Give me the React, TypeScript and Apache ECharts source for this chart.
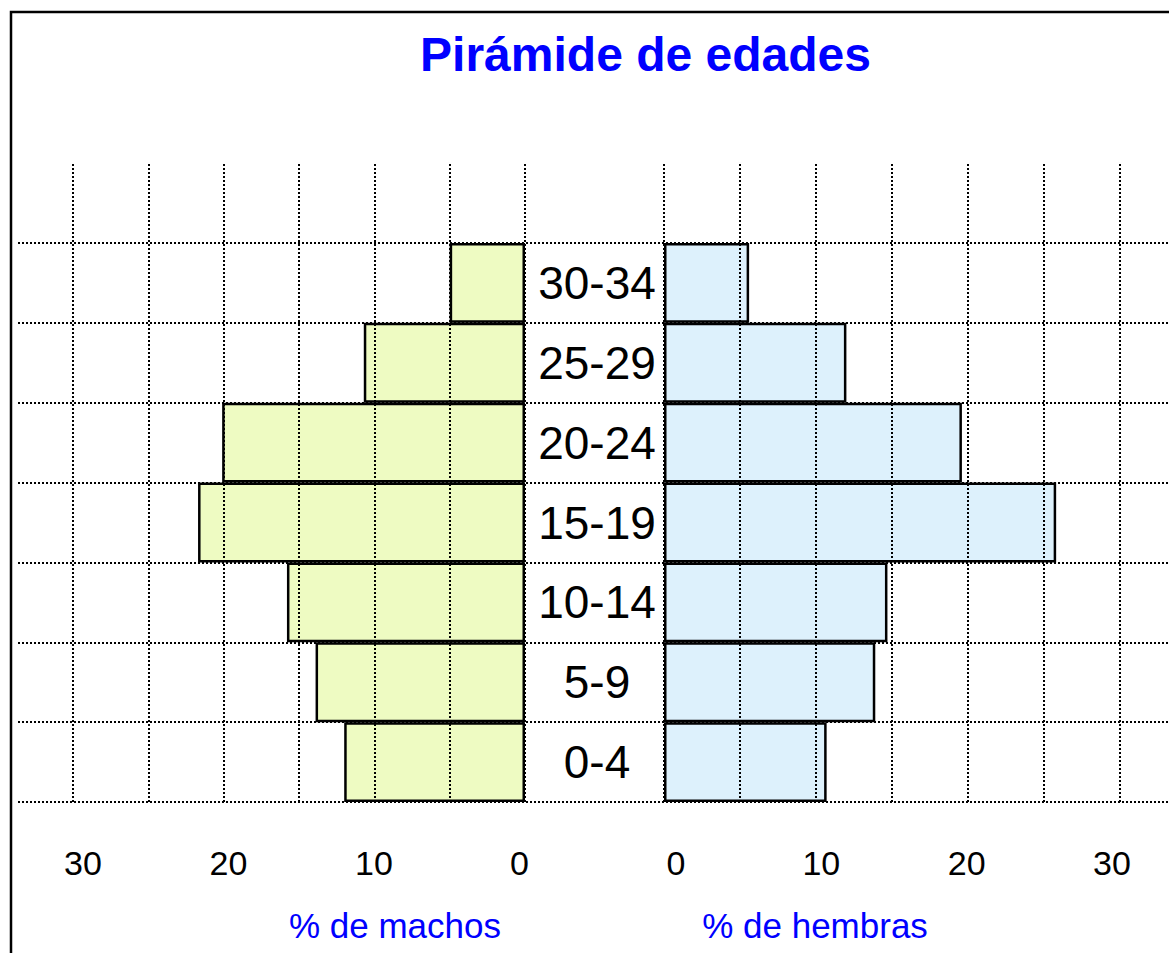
import React, { useEffect, useRef } from "react";
import * as echarts from "echarts";

const ageGroups = ["0-4", "5-9", "10-14", "15-19", "20-24", "25-29", "30-34"];
const malePercent = [12.0, 13.9, 15.8, 21.7, 20.1, 10.7, 5.0];
const femalePercent = [10.7, 13.9, 14.7, 25.8, 19.6, 12.0, 5.6];
const axisMax = 30;
const gridStep = 5;
const labelStep = 10;
const titleText = "Pirámide de edades";
const maleAxisTitle = "% de machos";
const femaleAxisTitle = "% de hembras";

const FONT = '"Liberation Sans", Arial, sans-serif';
const dotted = { color: "#000", width: 2, type: [2, 2] as number[] };

export default function App() {
  const ref = useRef<HTMLDivElement>(null);
  useEffect(() => {
    if (!ref.current) return;
    const chart = echarts.init(ref.current, undefined, { renderer: "svg" });
    const hiddenValue = (gridIndex: number) => ({
      gridIndex,
      type: "value",
      min: 0,
      max: 1,
      show: false,
    });
    const tickAxis = (gridIndex: number, inverse: boolean) => ({
      gridIndex,
      type: "value",
      inverse,
      min: 0,
      max: axisMax,
      interval: labelStep,
      axisLine: { show: false },
      axisTick: { show: false },
      splitLine: { show: false },
      axisLabel: {
        margin: 6,
        fontSize: 34,
        lineHeight: 34,
        color: "#000",
        fontFamily: FONT,
      },
    });
    const vLineAxis = (gridIndex: number, inverse: boolean) => ({
      gridIndex,
      type: "value",
      inverse,
      min: 0,
      max: axisMax,
      interval: gridStep,
      z: 10,
      axisLine: { show: false },
      axisTick: { show: false },
      axisLabel: { show: false },
      splitLine: { show: true, lineStyle: dotted },
    });
    chart.setOption({
      animation: false,
      backgroundColor: "#fff",
      grid: [
        { left: 73, top: 243, width: 452, height: 559 },
        { left: 664, top: 243, width: 456, height: 559 },
        { left: 73, top: 164, width: 452, height: 638 },
        { left: 664, top: 164, width: 456, height: 638 },
        { left: 18, top: 243, width: 1151, height: 559 },
        { left: 83, top: 800, width: 436.5, height: 40 },
        { left: 676, top: 800, width: 436, height: 40 },
      ],
      xAxis: [
        { gridIndex: 0, type: "value", inverse: true, min: 0, max: axisMax, show: false },
        { gridIndex: 1, type: "value", min: 0, max: axisMax, show: false },
        vLineAxis(2, true),
        vLineAxis(3, false),
        hiddenValue(4),
        tickAxis(5, true),
        tickAxis(6, false),
      ],
      yAxis: [
        { gridIndex: 0, type: "category", data: ageGroups, show: false },
        { gridIndex: 1, type: "category", data: ageGroups, show: false },
        hiddenValue(2),
        hiddenValue(3),
        {
          gridIndex: 4,
          type: "category",
          data: ageGroups,
          z: 10,
          axisLine: { show: false },
          axisTick: { show: false },
          splitLine: { show: true, interval: 0, lineStyle: dotted },
          axisLabel: {
            interval: 0,
            margin: -579,
            align: "center",
            fontSize: 46,
            color: "#000",
            fontFamily: FONT,
          },
        },
        hiddenValue(5),
        hiddenValue(6),
      ],
      series: [
        {
          type: "bar",
          xAxisIndex: 0,
          yAxisIndex: 0,
          data: malePercent,
          barWidth: "100%",
          itemStyle: { color: "#EEFBC2", borderColor: "#000", borderWidth: 2.5 },
        },
        {
          type: "bar",
          xAxisIndex: 1,
          yAxisIndex: 1,
          data: femalePercent,
          barWidth: "100%",
          itemStyle: { color: "#DDF1FC", borderColor: "#000", borderWidth: 2.5 },
        },
      ],
      graphic: [
        {
          type: "rect",
          shape: { x: 11, y: 12, width: 1200, height: 1000 },
          style: { fill: "none", stroke: "#000", lineWidth: 2.5 },
        },
        {
          type: "text",
          x: 645.5,
          y: 54.5,
          style: {
            text: titleText,
            fill: "#0000FF",
            fontSize: 48,
            fontWeight: "bold",
            fontFamily: FONT,
            align: "center",
            verticalAlign: "middle",
          },
        },
        {
          type: "text",
          x: 395,
          y: 925,
          style: {
            text: maleAxisTitle,
            fill: "#0000FF",
            fontSize: 35,
            fontFamily: FONT,
            align: "center",
            verticalAlign: "middle",
          },
        },
        {
          type: "text",
          x: 815,
          y: 925,
          style: {
            text: femaleAxisTitle,
            fill: "#0000FF",
            fontSize: 35,
            fontFamily: FONT,
            align: "center",
            verticalAlign: "middle",
          },
        },
      ],
    });
    return () => chart.dispose();
  }, []);
  return (
    <div
      ref={ref}
      style={{ position: "fixed", left: 0, top: 0, width: 1169, height: 953 }}
    />
  );
}
